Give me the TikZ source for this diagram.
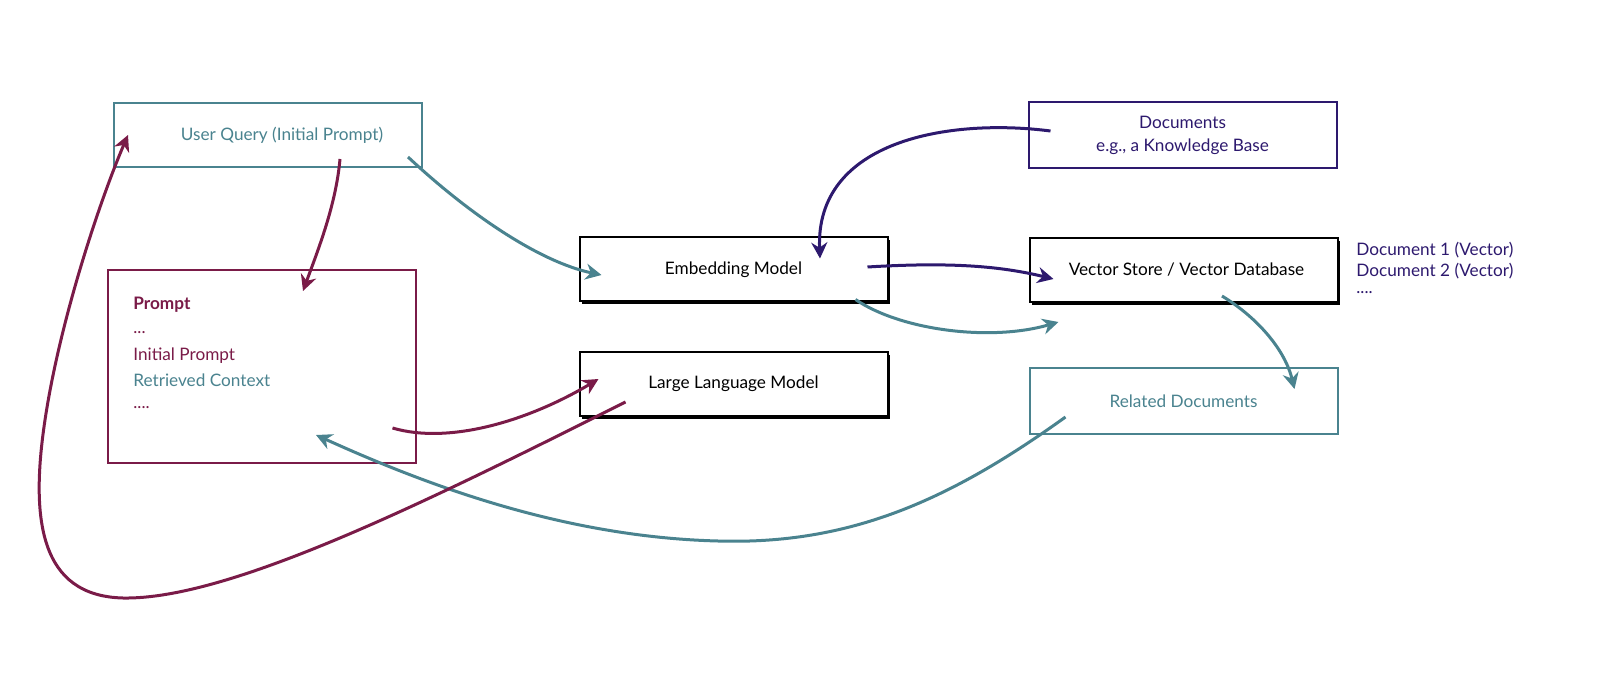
\documentclass[tikz,border=0pt]{standalone}
\usepackage{fontspec}
\setmainfont{Lato}
\usetikzlibrary{arrows.meta,calc,shadows}

\definecolor{teal}{RGB}{74,131,143}
\definecolor{maroon}{RGB}{122,27,72}
\definecolor{indigo}{RGB}{45,25,110}

\begin{document}
\begin{tikzpicture}[x=0.5pt,y=-0.5pt,
				font=\fontsize{8.6}{10.5}\selectfont,
				box/.style={draw,line width=1pt,fill=white,minimum width=154pt,minimum height=32pt,inner sep=0pt},
				model/.style={box,draw=black,drop shadow={shadow xshift=1.3pt,shadow yshift=-1.3pt,fill=black,opacity=1}},
				flow/.style={line width=1.5pt,-{Stealth[length=8pt,width=8pt]}},
				line/.style={anchor=west,inner sep=0pt}]

			\useasboundingbox (0,0) rectangle (1607,684);

			% left column
			\node[box,draw=teal,text=teal] (query) at (268,135) {\hspace{14pt}User Query (Initial Prompt)};
			\node[box,draw=maroon,minimum height=96.5pt] (prompt) at (261.5,366.5) {};
			\node[line,text=maroon,font=\fontsize{8.6}{10.5}\selectfont\bfseries] (p0) at (133,305) {Prompt};
			\node[line,text=maroon] (p1) at (133,333) {...};
			\node[line,text=maroon] (p2) at (133,356) {Initial Prompt};
			\node[line,text=teal] (p3) at (133,380) {Retrieved Context};
			\node[line,text=maroon] (p4) at (133,408) {....};

			% models
			\node[model] (embed) at (733.5,269.5) {Embedding Model};
			\node[model] (llm) at (733.5,384) {Large Language Model};

			% right column
			\node[box,draw=indigo,text=indigo,align=center,minimum height=33pt] (docs) at (1182.5,135) {Documents\\[1pt]e.g., a Knowledge Base};
			\node[model] (store) at (1183.5,270) {\hspace{3pt}Vector Store / Vector Database};
			\node[box,draw=teal,text=teal,minimum height=33pt] (related) at (1183.5,401) {Related Documents};

			\node[line,text=indigo] (v1) at (1356,250) {Document 1 (Vector)};
			\node[line,text=indigo] (v2) at (1356,271) {Document 2 (Vector)};
			\node[line,text=indigo] (v3) at (1356,293) {....};

			\draw[flow,teal] ($(query.south east)+(-15,-11)$) .. controls (470,215) and (540,262) .. ($(embed.west)+(23,5.5)$);
			\draw[flow,maroon] ($(query.south)+(72,-9)$) .. controls (336,205) and (318,250) .. ($(prompt.north)+(41.5,22)$);

			\draw[flow,indigo] ($(docs.west)+(23,-4)$) .. controls (950,118) and (815,140) .. ($(embed.north)+(86.5,22)$);
			\draw[flow,indigo] ($(embed.east)+(-21,-2.5)$) .. controls (950,262) and (1000,266) .. ($(store.west)+(25,9)$);
			\draw[flow,teal] ($(embed.south east)+(-33,-3)$) .. controls (900,330) and (990,342) .. ($(store.south west)+(30,19)$);
			\draw[flow,teal] ($(store.south)+(38.5,-7)$) .. controls (1258,318) and (1285,350) .. ($(related.north east)+(-44,22)$);

			\draw[flow,maroon] ($(prompt.south east)+(-24,-36)$) .. controls (450,445) and (530,420) .. ($(llm.west)+(20,-5)$);
			\draw[flow,teal] ($(related.west)+(37,16)$) .. controls (950,500) and (850,545) .. (718,541) .. controls (560,537) and (420,482) .. ($(prompt.south)+(54.5,-29)$);
			\draw[flow,maroon] ($(llm.south west)+(47,-15)$) .. controls (430,500) and (230,600) .. (123,598) .. controls (40,596) and (30,520) .. (45,420) .. controls (60,320) and (100,200) .. ($(query.west)+(15,0)$);

		\end{tikzpicture}
\end{document}
